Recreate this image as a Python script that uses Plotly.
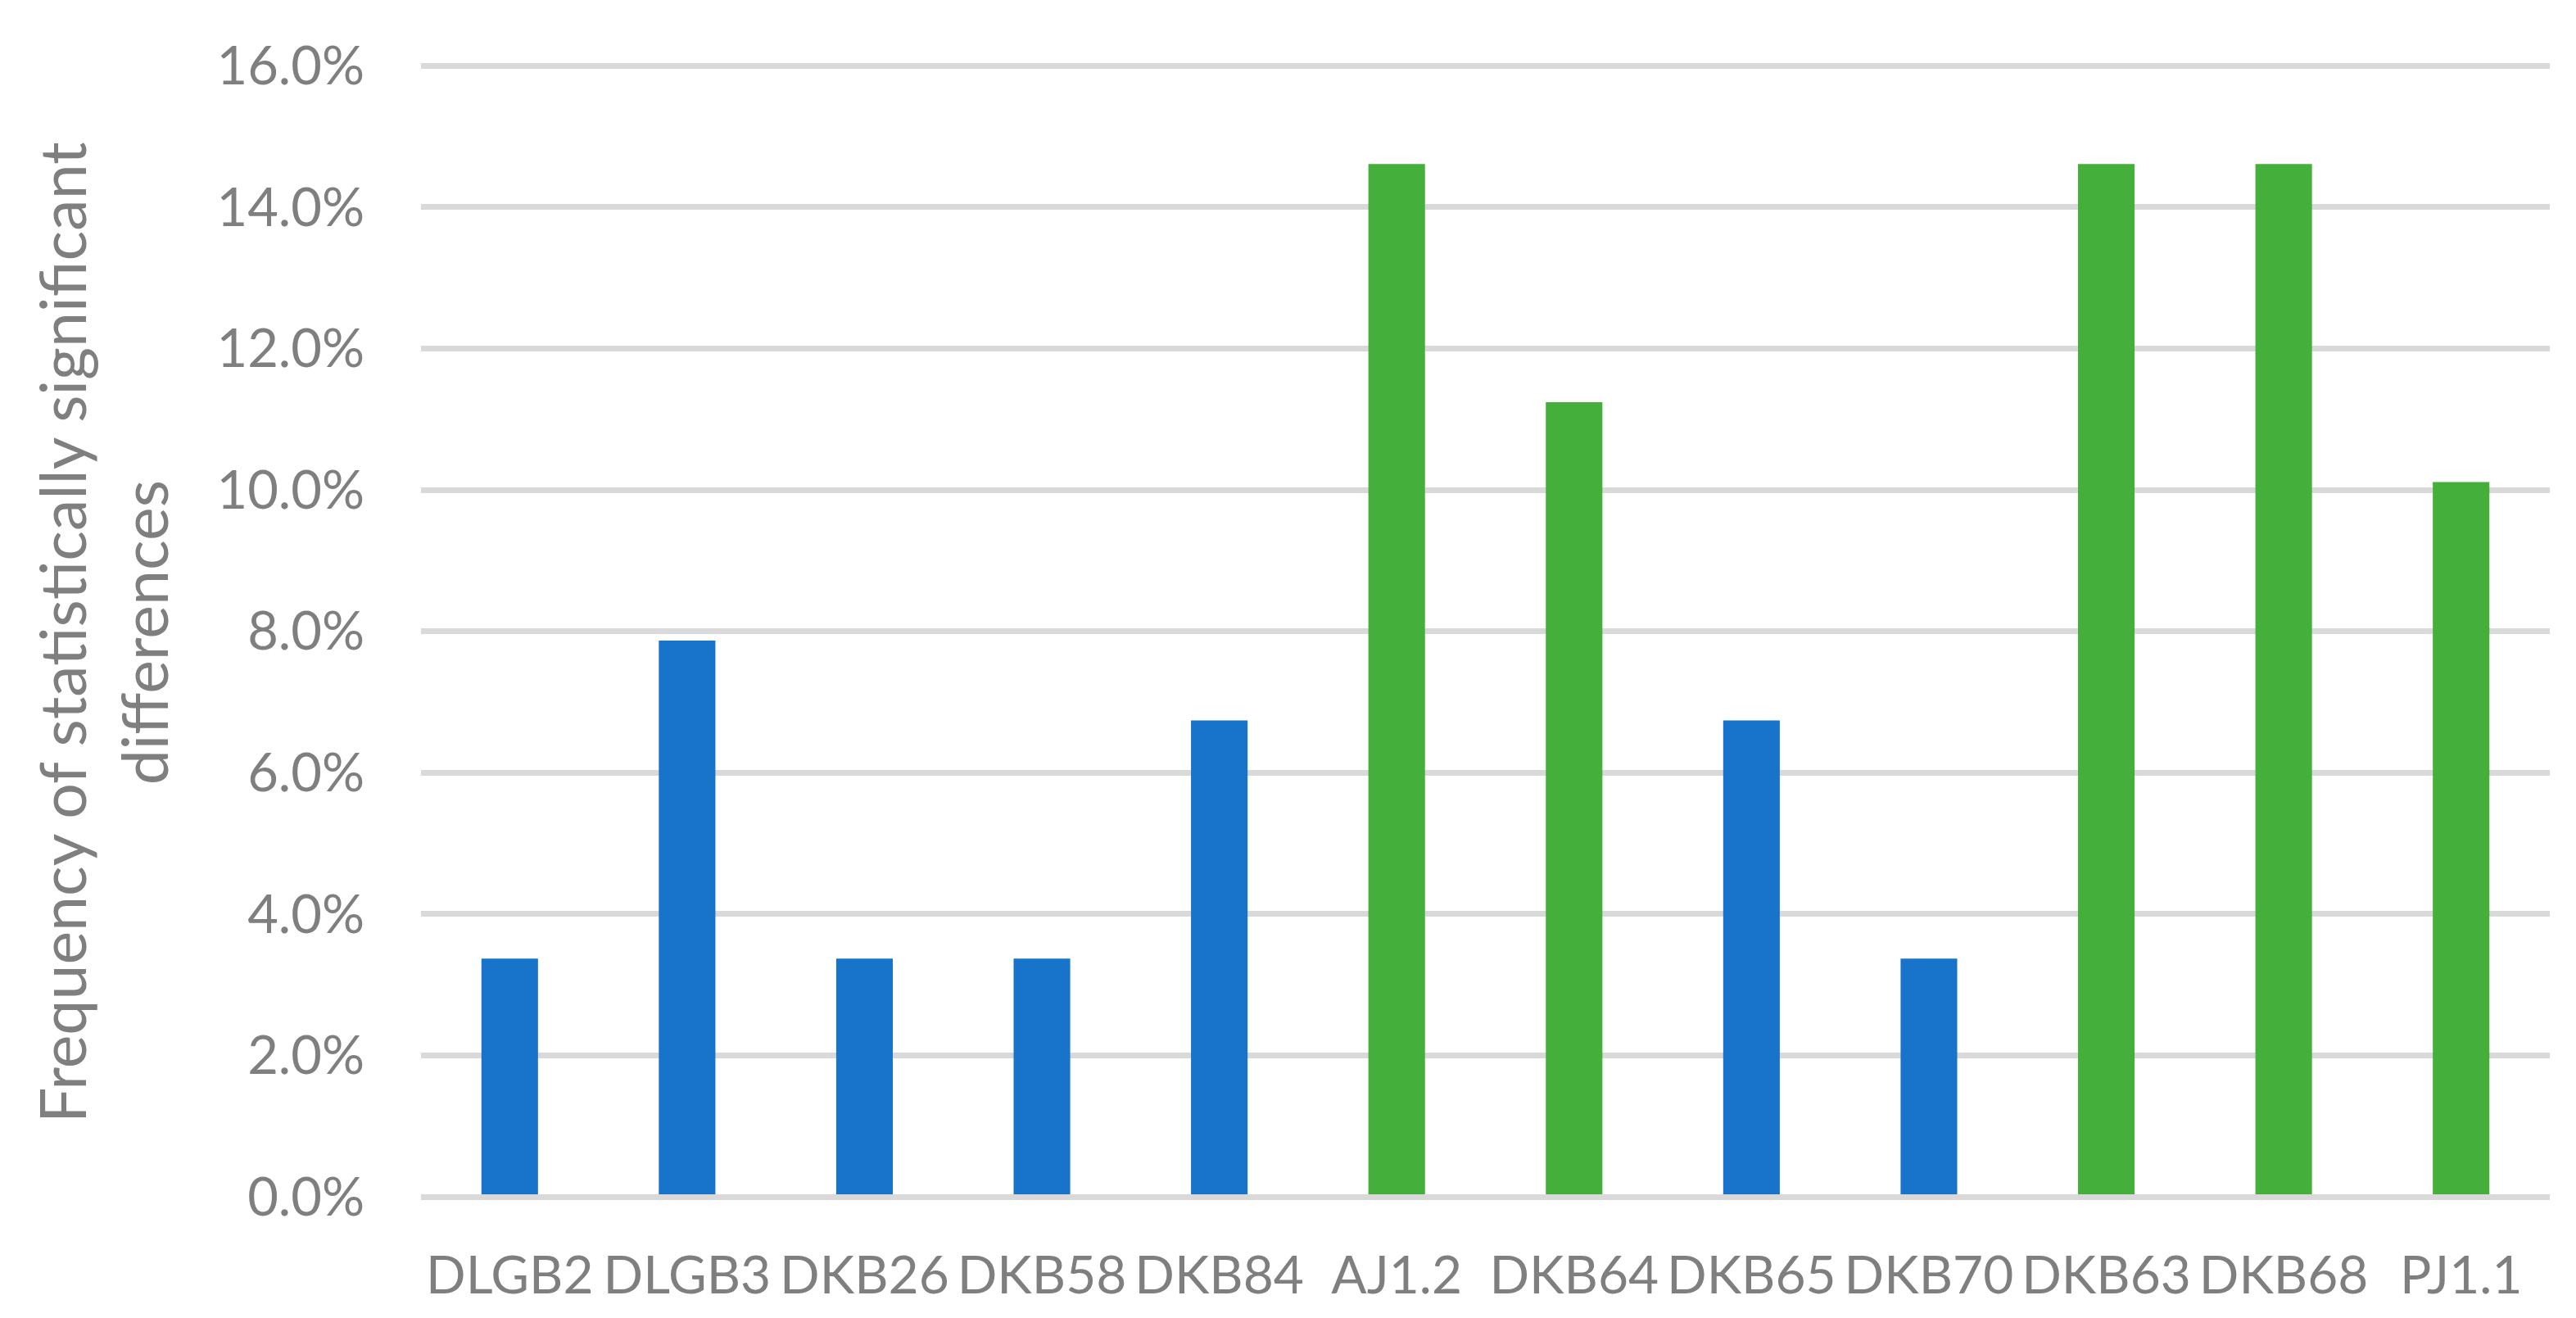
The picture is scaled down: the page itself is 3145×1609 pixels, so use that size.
import plotly.graph_objects as go

# Data
categories = ["DLGB2", "DLGB3", "DKB26", "DKB58", "DKB84", "AJ1.2",
              "DKB64", "DKB65", "DKB70", "DKB63", "DKB68", "PJ1.1"]
values_pct = [3.37, 7.87, 3.37, 3.37, 6.74, 14.61,
              11.24, 6.74, 3.37, 14.61, 14.61, 10.11]
groups = ["blue", "blue", "blue", "blue", "blue", "green",
          "green", "blue", "blue", "green", "green", "green"]
y_tick_values = [0, 0.02, 0.04, 0.06, 0.08, 0.10, 0.12, 0.14, 0.16]
y_title = "Frequency of statistically significant<br>differences"

group_colors = {"blue": "#1874CA", "green": "#45AF3C"}

W, H = 3145, 1609
L, R, T, B = 514, 32, 76, 148
FONT = "Lato, 'Open Sans', sans-serif"
GRAY = "#7f7f7f"
GRID = "#d9d9d9"

fig = go.Figure(
    go.Bar(
        x=categories,
        y=[v / 100 for v in values_pct],
        marker=dict(color=[group_colors[g] for g in groups], line=dict(width=0)),
        showlegend=False,
    )
)

fig.update_layout(
    width=W, height=H,
    margin=dict(l=L, r=R, t=T, b=B, pad=0),
    paper_bgcolor="white",
    plot_bgcolor="white",
    bargap=0.681,
    font=dict(family=FONT, color=GRAY, size=65),
    xaxis=dict(
        showgrid=False, showline=False, zeroline=False, ticks="",
        tickfont=dict(size=64, color=GRAY, family=FONT),
        ticklabelstandoff=53,
    ),
    yaxis=dict(
        range=[0, 0.1605],
        tickvals=y_tick_values,
        tickformat=".1%",
        showgrid=True, gridcolor=GRID, gridwidth=6.7,
        zeroline=True, zerolinecolor=GRID, zerolinewidth=6.7,
        showline=False, ticks="",
        tickfont=dict(size=65, color=GRAY, family=FONT),
        ticklabelstandoff=68,
    ),
    annotations=[
        dict(
            text=y_title, textangle=-90,
            xref="paper", yref="paper",
            x=(125 - L) / (W - L - R), y=(H - B - 772) / (H - T - B),
            xanchor="center", yanchor="middle",
            showarrow=False,
            font=dict(size=77, color=GRAY, family=FONT),
        )
    ],
)

try:
    fig.update_yaxes(zerolinelayer="above traces")
except (ValueError, TypeError):
    pass

fig.write_html(
    "out.html",
    config={"displayModeBar": False},
    post_script="document.body.style.margin='0';document.body.style.overflow='hidden';",
)
